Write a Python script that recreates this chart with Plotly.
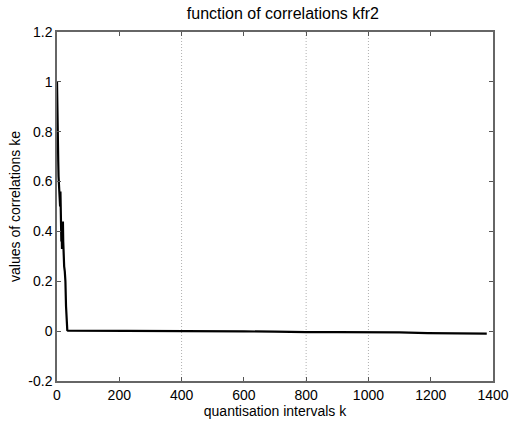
import plotly.graph_objects as go

k_vals = [0, 1, 2, 3, 4, 5, 6, 7, 8, 9, 10, 11, 12, 13, 14, 15, 16, 17, 18, 19, 20, 21, 22, 23, 25, 27,
          29, 31, 33, 35, 60, 100, 200, 300, 400, 500, 600, 700, 780, 800, 900, 1000, 1100, 1190, 1200, 1300, 1380]
ke_vals = [1.0, 0.95, 0.84, 0.76, 0.68, 0.62, 0.59, 0.58, 0.6, 0.55, 0.5, 0.56, 0.42, 0.5, 0.36, 0.4, 0.33, 0.36,
           0.43, 0.44, 0.36, 0.3, 0.28, 0.26, 0.24, 0.2, 0.1, 0.04, 0.004, 0.002, 0.002, 0.002, 0.001, 0.001,
           0.0, 0.0, -0.001, -0.002, -0.004, -0.004, -0.004, -0.004, -0.005, -0.008, -0.008, -0.009, -0.01]

x_ticks = [0, 200, 400, 600, 800, 1000, 1200, 1400]
y_ticks = [-0.2, 0, 0.2, 0.4, 0.6, 0.8, 1, 1.2]
y_tick_text = ["-0.2", "0", "0.2", "0.4", "0.6", "0.8", "1", "1.2"]
grid_x = [400, 800, 1000]

fig = go.Figure()
fig.add_trace(go.Scatter(x=k_vals, y=ke_vals, mode="lines",
                         line=dict(color="black", width=2.2), showlegend=False))

for gx in grid_x:
    fig.add_vline(x=gx, line=dict(color="#b0b0b0", width=1, dash="1px,2px"), layer="below")

font = "Liberation Sans, Arial, sans-serif"
fig.update_layout(
    width=521, height=426,
    margin=dict(l=57, r=18, t=32, b=42),
    paper_bgcolor="white", plot_bgcolor="white",
    title=dict(text="function of correlations kfr2", x=0.543, xanchor="center", y=0.968, yanchor="middle",
               font=dict(family=font, size=16, color="black")),
    font=dict(family=font, size=14, color="black"),
    xaxis=dict(range=[0, 1400], tickvals=x_ticks, ticks="inside", ticklen=4, tickcolor="#555",
               showgrid=False, zeroline=False, showline=True, linecolor="#666", linewidth=1.5, mirror="ticks",
               title=dict(text="quantisation intervals k", font=dict(family=font, size=14), standoff=2),
               tickfont=dict(family=font, size=14)),
    yaxis=dict(range=[-0.2, 1.2], tickvals=y_ticks, ticktext=y_tick_text, ticks="inside", ticklen=4,
               tickcolor="#555", showgrid=False, zeroline=False, showline=True, linecolor="#666",
               linewidth=1.5, mirror="ticks",
               title=dict(text="values of correlations ke", font=dict(family=font, size=14), standoff=4),
               tickfont=dict(family=font, size=14)),
)

fig.write_html("out.html")
